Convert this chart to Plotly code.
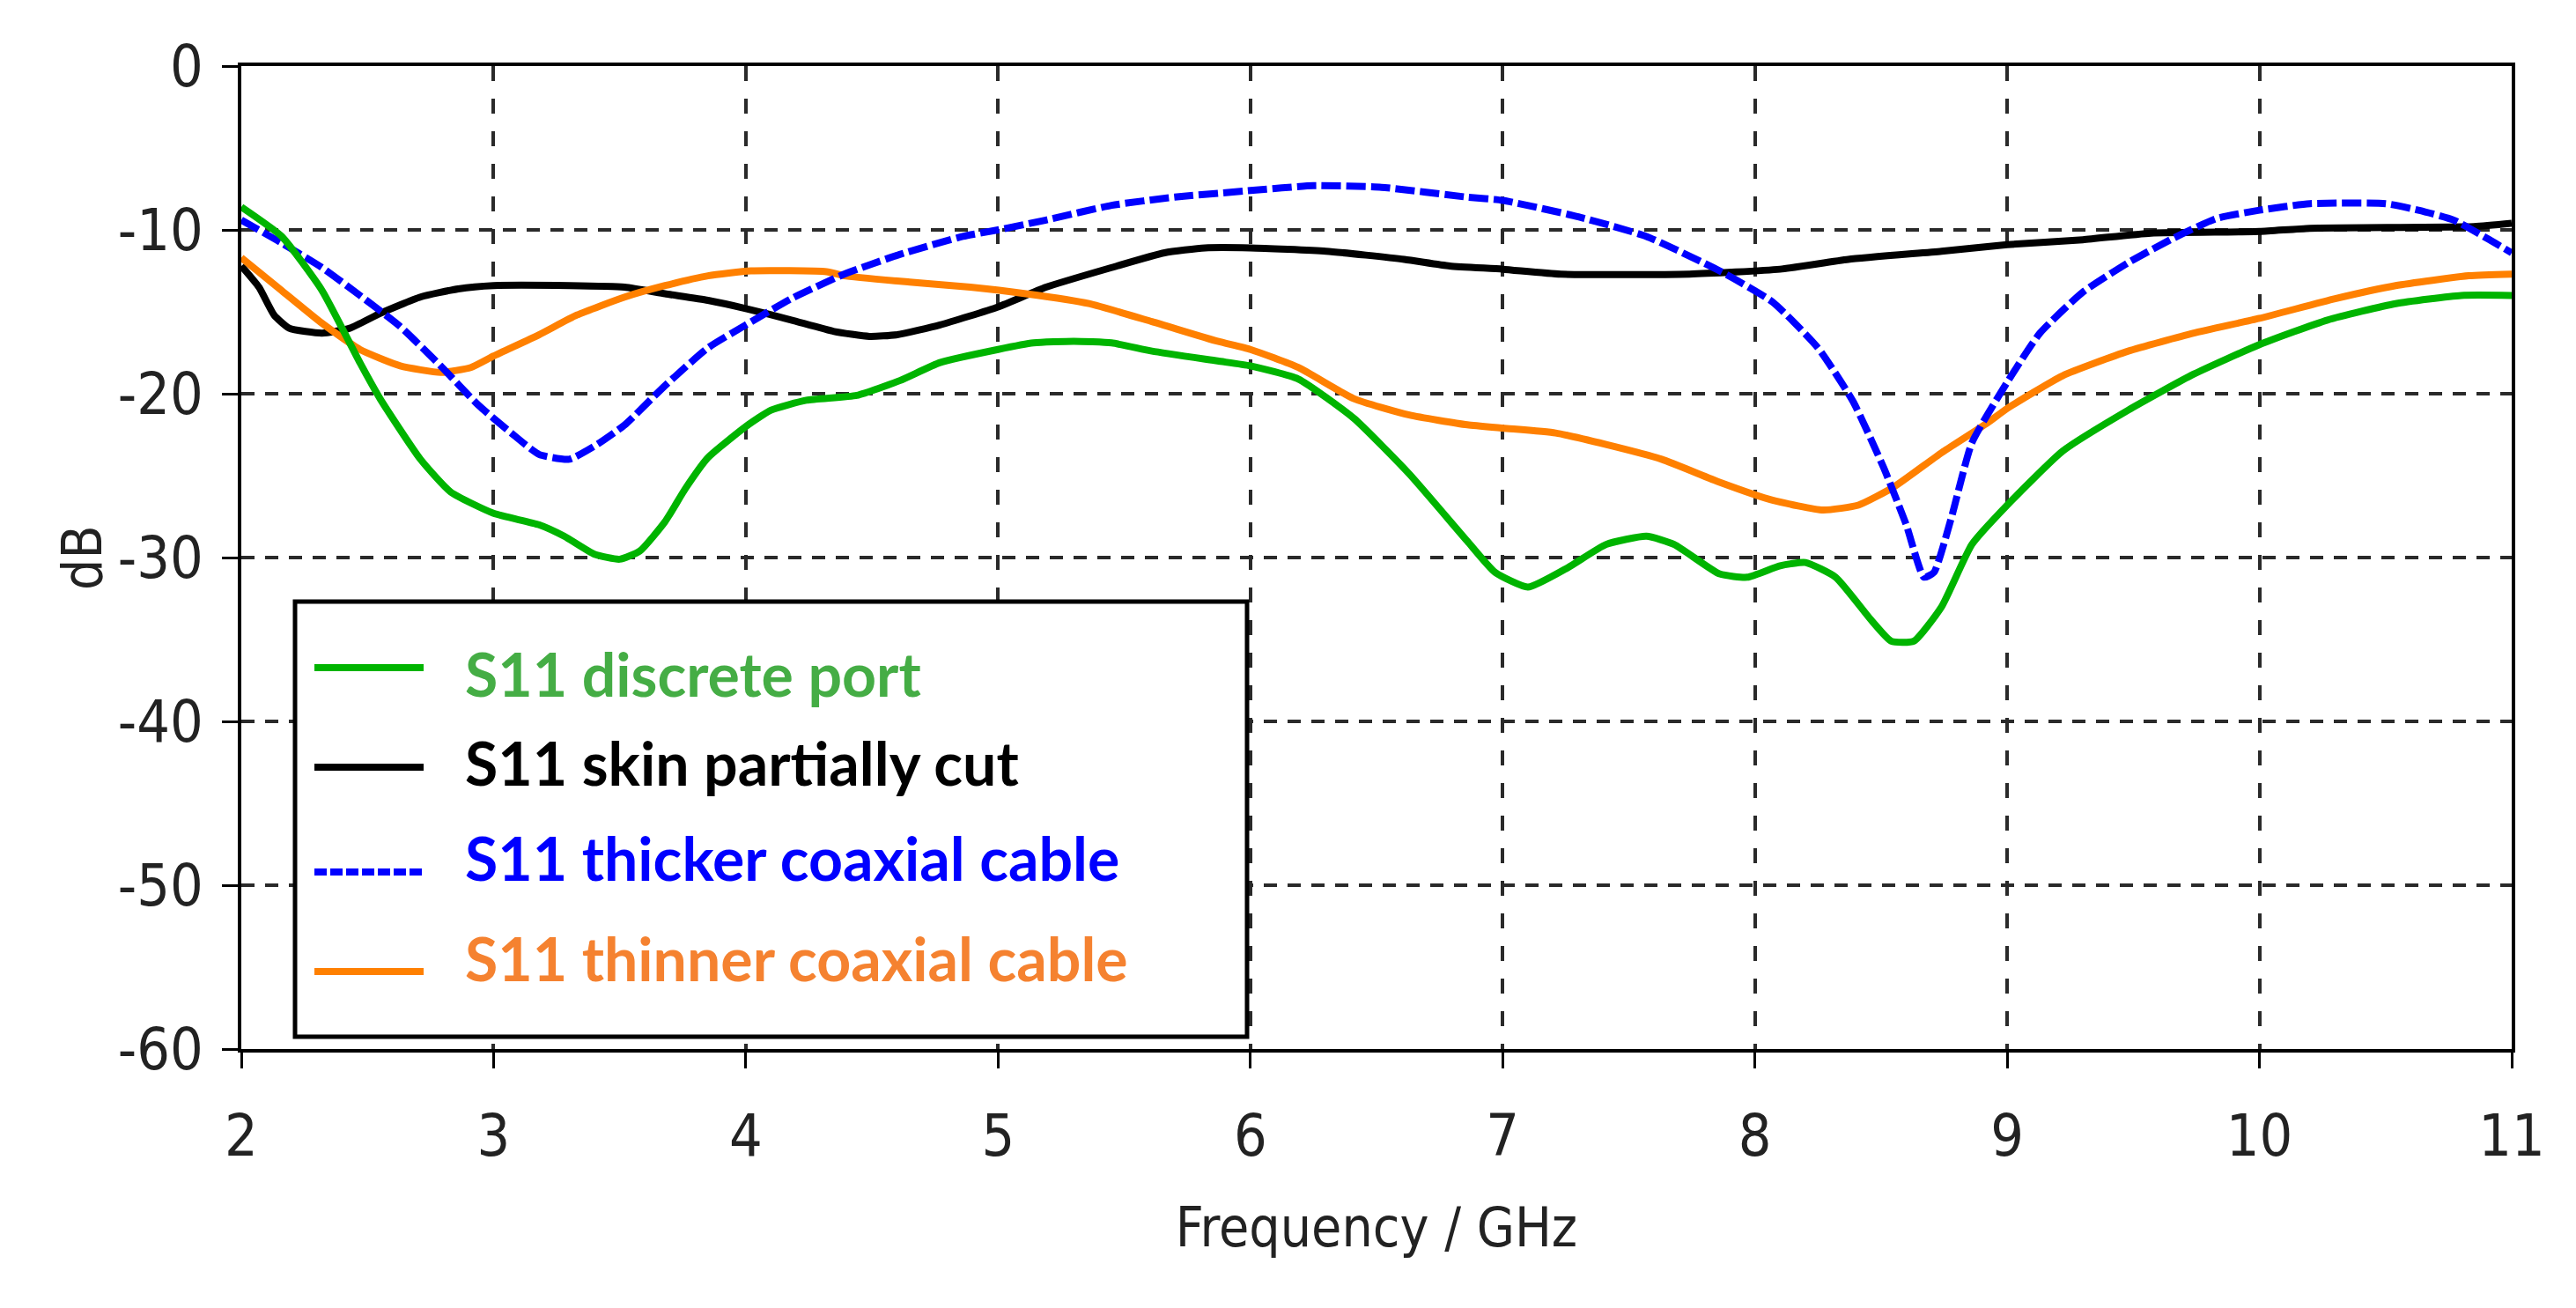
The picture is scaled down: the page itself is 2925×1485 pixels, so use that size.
import plotly.graph_objects as go

# ---------------- data ----------------
freq_discrete = [2.0, 2.16, 2.32, 2.47, 2.55, 2.71, 2.83, 3.0, 3.18, 3.28, 3.4, 3.5, 3.58, 3.68,
                 3.76, 3.85, 4.0, 4.1, 4.24, 4.44, 4.61, 4.77, 5.0, 5.14, 5.3, 5.45, 5.61, 5.87,
                 6.0, 6.19, 6.41, 6.63, 6.86, 6.97, 7.1, 7.26, 7.41, 7.57, 7.68, 7.86, 7.97, 8.1,
                 8.2, 8.32, 8.46, 8.54, 8.63, 8.74, 8.86, 9.0, 9.22, 9.48, 9.74, 10.0, 10.27,
                 10.54, 10.8, 11.0]
s11_discrete = [-8.6, -10.4, -13.7, -18.1, -20.3, -24.0, -26.0, -27.3, -28.0, -28.7, -29.8, -30.1,
                -29.6, -27.8, -25.8, -23.9, -22.0, -21.0, -20.4, -20.1, -19.2, -18.1, -17.3, -16.9,
                -16.8, -16.9, -17.4, -18.0, -18.3, -19.1, -21.5, -24.9, -29.0, -30.9, -31.8, -30.6,
                -29.2, -28.7, -29.2, -31.0, -31.2, -30.5, -30.3, -31.2, -33.8, -35.1, -35.1, -33.0,
                -29.2, -26.8, -23.5, -21.0, -18.8, -17.0, -15.5, -14.5, -14.0, -14.0]

freq_skin = [2.0, 2.07, 2.13, 2.19, 2.32, 2.43, 2.55, 2.71, 2.86, 3.0, 3.3, 3.52, 3.68, 3.85, 4.0,
             4.18, 4.35, 4.49, 4.6, 4.77, 5.0, 5.19, 5.45, 5.66, 5.82, 6.0, 6.3, 6.61, 6.79, 7.0,
             7.23, 7.74, 8.1, 8.37, 8.74, 9.0, 9.3, 9.57, 10.0, 10.2, 10.85, 11.0]
s11_skin = [-12.2, -13.5, -15.2, -16.0, -16.3, -16.0, -15.1, -14.1, -13.6, -13.4, -13.4, -13.5,
            -13.9, -14.3, -14.8, -15.5, -16.2, -16.5, -16.4, -15.8, -14.7, -13.5, -12.3, -11.4,
            -11.1, -11.1, -11.3, -11.8, -12.2, -12.4, -12.7, -12.7, -12.4, -11.8, -11.3, -10.9,
            -10.6, -10.2, -10.1, -9.9, -9.8, -9.6]

freq_thick = [2.0, 2.16, 2.32, 2.47, 2.63, 2.79, 2.94, 3.07, 3.18, 3.3, 3.41, 3.52, 3.68, 3.85,
              4.0, 4.18, 4.39, 4.61, 4.86, 5.0, 5.19, 5.45, 5.7, 6.0, 6.25, 6.52, 6.86, 7.0, 7.3,
              7.57, 7.86, 8.07, 8.25, 8.39, 8.51, 8.6, 8.67, 8.71, 8.78, 8.86, 9.0, 9.13, 9.3,
              9.48, 9.66, 9.83, 10.0, 10.2, 10.5, 10.63, 10.77, 10.9, 11.0]
s11_thick = [-9.4, -10.8, -12.3, -14.0, -15.9, -18.3, -20.7, -22.4, -23.7, -24.0, -23.1, -21.9,
             -19.5, -17.2, -15.8, -14.2, -12.7, -11.5, -10.4, -10.0, -9.4, -8.5, -8.0, -7.6, -7.3,
             -7.4, -8.0, -8.2, -9.2, -10.4, -12.5, -14.4, -17.2, -20.5, -24.5, -28.0, -31.2,
             -30.9, -27.5, -23.0, -19.3, -16.3, -13.8, -12.0, -10.5, -9.3, -8.8, -8.4, -8.4,
             -8.8, -9.4, -10.5, -11.4]

freq_thin = [2.0, 2.16, 2.32, 2.47, 2.63, 2.79, 2.91, 3.0, 3.18, 3.33, 3.52, 3.68, 3.85, 4.02,
             4.32, 4.39, 4.66, 4.89, 5.11, 5.36, 5.61, 5.87, 6.0, 6.19, 6.41, 6.63, 6.86, 7.0,
             7.21, 7.41, 7.63, 7.86, 8.07, 8.27, 8.41, 8.55, 8.74, 8.92, 9.0, 9.22, 9.48, 9.74,
             10.0, 10.3, 10.54, 10.83, 11.0]
s11_thin = [-11.7, -13.7, -15.7, -17.3, -18.3, -18.7, -18.4, -17.7, -16.4, -15.2, -14.1, -13.4,
            -12.8, -12.5, -12.55, -12.8, -13.2, -13.5, -13.9, -14.5, -15.6, -16.8, -17.3, -18.4,
            -20.3, -21.3, -21.9, -22.1, -22.4, -23.1, -24.0, -25.4, -26.5, -27.1, -26.8, -25.7,
            -23.6, -21.8, -20.9, -18.9, -17.4, -16.3, -15.4, -14.2, -13.4, -12.8, -12.7]

series_names = ["S11 discrete port", "S11 skin partially cut",
                "S11 thicker coaxial cable", "S11 thinner coaxial cable"]
line_colors = ["#00b400", "#000000", "#0000ff", "#ff8000"]
text_colors = ["#45ad45", "#000000", "#0000ff", "#f58230"]
line_dashes = ["solid", "solid", "22px,6px", "solid"]

x_ticks = [2, 3, 4, 5, 6, 7, 8, 9, 10, 11]
y_ticks = [0, -10, -20, -30, -40, -50, -60]
x_title = "Frequency / GHz"
y_title = "dB"

xs = [freq_discrete, freq_skin, freq_thick, freq_thin]
ys = [s11_discrete, s11_skin, s11_thick, s11_thin]

# ---------------- figure ----------------
W, H = 2925, 1485
ML, MR, MT, MB = 266, 81, 67, 302
PW, PH = W - ML - MR, H - MT - MB

fig = go.Figure()
draw_order = [1, 3, 2, 0]
for i in draw_order:
    fig.add_trace(go.Scatter(
        x=xs[i], y=ys[i], mode="lines", name=series_names[i], showlegend=False,
        line=dict(color=line_colors[i], width=8, dash=line_dashes[i],
                  shape="spline", smoothing=0.5),
    ))

narrow = "Liberation Sans Narrow, Arial Narrow, DejaVu Sans Condensed, sans-serif"
tick_font = dict(family=narrow, size=66, color="#222222")
title_font = dict(family=narrow, size=62, color="#222222")

fig.update_layout(
    width=W, height=H,
    margin=dict(l=ML, r=MR, t=MT, b=MB, autoexpand=False),
    paper_bgcolor="white", plot_bgcolor="white",
    xaxis=dict(
        range=[2, 11], tickvals=x_ticks, ticktext=[str(v) for v in x_ticks],
        showline=True, linecolor="black", linewidth=4, mirror=True,
        ticks="outside", ticklen=18, tickwidth=3, tickcolor="black",
        showgrid=True, gridcolor="#2a2a2a", gridwidth=3.5, griddash="17px,20px",
        zeroline=False, tickfont=tick_font, ticklabelstandoff=20,
        title=dict(text=x_title, font=title_font, standoff=45),
    ),
    yaxis=dict(
        range=[-60, 0], tickvals=y_ticks, ticktext=[str(v) for v in y_ticks],
        showline=True, linecolor="black", linewidth=4, mirror=True,
        ticks="outside", ticklen=18, tickwidth=3, tickcolor="black",
        showgrid=True, gridcolor="#2a2a2a", gridwidth=4, griddash="15px,12px",
        zeroline=False, tickfont=tick_font, ticklabelstandoff=8,
    ),
)

# ---------------- helpers: pixel -> paper ----------------
def px_x(p):
    return (p - ML) / PW

def px_y(p):
    return (MT + PH - p) / PH

# y-axis title, placed where the reference puts it
fig.add_annotation(xref="paper", yref="paper", x=px_x(85), y=0.5,
                   xanchor="center", yanchor="middle", textangle=-90, showarrow=False,
                   text=y_title, font=title_font)

# ---------------- custom legend (box, line samples, coloured labels) ----------------
fig.add_shape(type="rect", xref="paper", yref="paper", layer="above",
              x0=px_x(327), x1=px_x(1408), y0=px_y(1169), y1=px_y(675),
              line=dict(color="black", width=5), fillcolor="white")

line_rows = [750, 863, 982, 1095]
text_rows = [756, 857, 965, 1079]
for k, name in enumerate(series_names):
    yl = px_y(line_rows[k])
    fig.add_shape(type="line", xref="paper", yref="paper", layer="above",
                  x0=px_x(349), x1=px_x(473), y0=yl, y1=yl,
                  line=dict(color=line_colors[k], width=8,
                            dash="14px,4px" if line_dashes[k] != "solid" else "solid"))
    fig.add_annotation(xref="paper", yref="paper", x=px_x(518), y=px_y(text_rows[k]),
                       xanchor="left", yanchor="middle", showarrow=False,
                       text="<b>" + name + "</b>",
                       font=dict(family="Lato, Carlito, sans-serif", size=68,
                                 color=text_colors[k]))

fig.write_html("out.html")
